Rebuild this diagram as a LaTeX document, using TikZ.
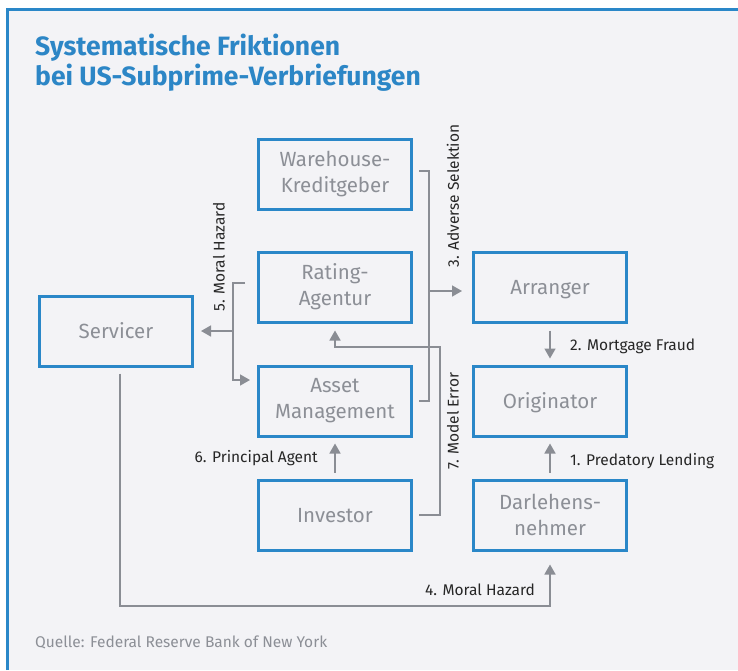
\documentclass[tikz,border=0pt]{standalone}
\usepackage{fontspec}
\setmainfont{Fira Sans}
\usetikzlibrary{arrows.meta}
\definecolor{bg}{HTML}{F3F3F6}
\definecolor{fblue}{HTML}{2A87C8}
\definecolor{tblue}{HTML}{2C86C6}
\definecolor{lgray}{HTML}{8A8D94}
\definecolor{boxtext}{HTML}{8C8F96}
\definecolor{labtext}{HTML}{262626}
\begin{document}
\begin{tikzpicture}[x=1pt,y=-1pt,
  box/.style={draw=fblue, line width=3pt, minimum width=153pt, minimum height=70pt,
    inner sep=0pt, text=boxtext, font=\fontsize{20.5}{26}\selectfont, align=center},
  oneline/.style={text height=14pt, text depth=0pt},
  conn/.style={draw=lgray, line width=1.6pt},
  arr/.style={conn, -{Triangle[length=10pt,width=11pt]}},
  lab/.style={text=labtext, font=\fontsize{15.5}{17}\selectfont, inner sep=0pt},
  ttl/.style={text=tblue, font=\fontsize{26.5}{30}\selectfont\bfseries, inner sep=0pt, anchor=base west},
]
\useasboundingbox (0,0) rectangle (738,670);
\fill[bg] (7,9.5) rectangle (738,670);
\draw[fblue, line width=3pt] (7,670) -- (7,9.5) -- (738,9.5);

\node[ttl] (title1) at (35,55) {Systematische Friktionen};
\node[ttl] (title2) at (35,85) {bei US-Subprime-Verbriefungen};

\node[box] (wh)   at (335,174) {Warehouse-\\Kreditgeber};
\node[box] (ra)   at (335,287) {Rating-\\Agentur};
\node[box] (am)   at (335,401) {Asset\\Management};
\node[box, oneline] (inv)  at (335,515) {Investor};
\node[box, oneline] (arng) at (550,287) {Arranger};
\node[box, oneline] (ori)  at (550,401) {Originator};
\node[box] (dn)   at (550,515) {Darlehens-\\nehmer};
\node[box, oneline] (srv)  at (116,331) {Servicer};

% 3. Adverse Selektion
\coordinate (bus3) at (429,291);
\draw[conn] ([xshift=6pt,yshift=3pt]wh.east) -| (bus3) |- ([xshift=6pt]am.east);
\draw[arr] (bus3) -- ([xshift=-10pt]arng.west |- bus3);

% 5. Moral Hazard
\coordinate (bus5) at (233,331);
\draw[conn] ([xshift=-12pt,yshift=4pt]ra.west) -| (bus5);
\draw[arr] (bus5) -- ([xshift=7pt]srv.east |- bus5);
\draw[arr] (bus5) |- ([xshift=-7pt,yshift=21pt]am.west);

% 6. Principal Agent
\draw[arr] ([yshift=6pt]inv.north) -- ([yshift=-6pt]am.south);

% 7. Model Error
\coordinate (bus7) at (440,347);
\draw[arr] ([xshift=6pt]inv.east) -| (bus7) -| ([yshift=-7pt]ra.south);

% 2. Mortgage Fraud
\draw[arr] ([yshift=-7pt]arng.south) -- ([yshift=6pt]ori.north);
% 1. Predatory Lending
\draw[arr] ([yshift=6pt]dn.north) -- ([yshift=-6pt]ori.south);
% 4. Moral Hazard
\coordinate (c4) at (550,606);
\draw[arr] ([xshift=4pt,yshift=-6pt]srv.south) |- (c4) -- ([yshift=-13pt]dn.south);

\node[lab, anchor=west] (l2) at (570,346) {2. Mortgage Fraud};
\node[lab, anchor=west] (l1) at (570,461) {1. Predatory Lending};
\node[lab, anchor=east] (l4) at (535,590) {4. Moral Hazard};
\node[lab, anchor=east] (l6) at (318,458) {6. Principal Agent};
\node[lab, rotate=90] (l3) at (453,196) {3. Adverse Selektion};
\node[lab, rotate=90] (l5) at (219,257) {5. Moral Hazard};
\node[lab, rotate=90] (l7) at (453,421) {7. Model Error};

\node[anchor=base west, text=boxtext, font=\fontsize{15.5}{17}\selectfont, inner sep=0pt] (src) at (35,647) {Quelle: Federal Reserve Bank of New York};
\end{tikzpicture}
\end{document}
